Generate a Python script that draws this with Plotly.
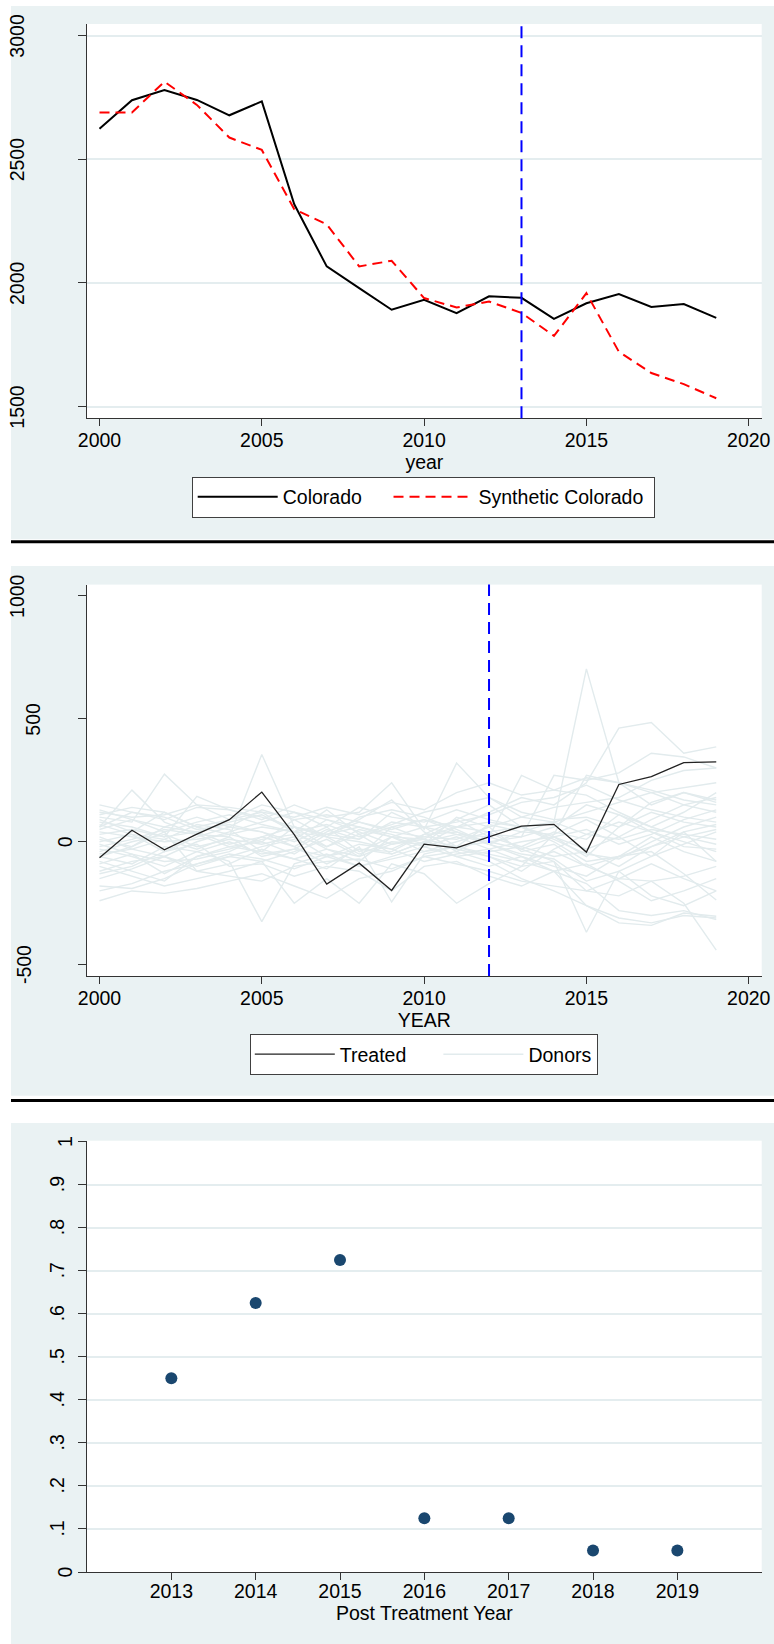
import plotly.graph_objects as go

W, H = 774, 1644
FONT = "Liberation Sans, Arial, sans-serif"
FONT_SIZE = 19.5
PANEL_BG = "#EAF2F3"
GRID = "#E4EDEF"
AXIS = "#333333"
NBSP = "\u00a0"

# ---- data -------------------------------------------------------------
years = list(range(2000, 2020))
colorado = [2624, 2739, 2780, 2740, 2678, 2734, 2318, 2067, 1979, 1892,
            1932, 1878, 1946, 1940, 1855, 1918, 1955, 1903, 1915, 1859]
synthetic_colorado = [2689, 2689, 2814, 2720, 2588, 2538, 2298, 2237, 2067, 2090,
                      1939, 1901, 1925, 1879, 1786, 1959, 1722, 1636, 1591, 1534]
treatment_year_top = 2013

gap_treated = [-65, 47, -33, 31, 90, 202, 29, -172, -87, -198,
               -10, -25, 20, 64, 71, -42, 233, 265, 322, 325]
treatment_year_mid = 2012

donor_gaps = [
    [150, 120, 90, 140, 130, 100, 60, 30, 80, 40, 20, 10, 60, 100, 140, 160, 180, 250, 290, 300],
    [-240, -200, -210, -190, -160, -130, -180, -230, -150, -120, -60, -40, -80, -150, -200, -260, -310, -330, -300, -310],
    [100, 80, 275, 150, 90, 120, 40, 70, 20, 60, 10, 90, 150, 60, 80, 703, 240, 150, 200, 160],
    [-180, -190, -150, -90, -60, -20, 10, 90, 60, 30, -10, 60, 120, 180, 150, 240, 462, 485, 360, 386],
    [60, 210, 80, 30, 20, 355, 60, -20, 30, -50, 0, 30, -10, -60, -100, -140, -60, -20, 40, 70],
    [-30, -60, -100, -40, -80, -325, -90, -50, -100, -70, -40, -20, -60, -100, -80, -200, -150, -160, -250, -441],
    [30, 50, 20, 185, 130, 90, 150, 100, 120, 240, 50, 320, 180, 100, 80, 30, 10, 50, 30, 10],
    [-100, -140, -180, -150, -120, -80, -250, -150, -250, -90, -130, -250, -170, -100, 30, 270, 240, 210, 170, 150],
    [120, 100, 110, 150, 140, 120, 100, 140, 110, 160, 130, 200, 240, 190, 210, 260, 240, 200, 220, 240],
    [-60, -20, 40, -120, -90, -30, -70, -110, -20, -245, -50, -20, -50, -80, -120, -170, -280, -300, -280, -317],
    [40, 20, 0, 10, 30, 60, 40, -30, -60, -10, 10, -20, 0, 20, 270, 250, 280, 360, 345, 300],
    [0, 30, -40, 20, 60, 40, 0, 60, -40, 20, 60, 30, 20, 270, 210, 190, 120, 60, 120, 200],
    [-120, -80, -60, -100, -60, -80, -40, 10, -60, 60, 90, 60, 40, -30, -80, -368, -120, -60, 40, -80],
    [80, 60, 20, 40, -10, 20, 60, 30, 10, 120, 60, -20, 70, 40, 30, 90, 20, -60, -10, 40],
    [-60, -90, -20, -40, 0, -50, -30, -60, -10, -30, -80, -50, -30, -80, -40, -100, -150, -90, -150, -200],
    [110, 140, 120, 60, 90, 150, 120, 60, 140, 100, 80, 130, 90, 60, 10, -50, -70, 0, 60, 100],
    [-80, -120, -160, -60, -30, 10, 30, -20, 50, 20, -40, 0, 40, 60, 20, -30, 20, 90, 150, 180],
    [20, -30, -60, 0, 40, 80, 120, 90, 40, -10, 20, 60, 80, 60, 0, -80, -60, -40, -130, -237],
    [-150, -110, -60, -120, -140, -160, -100, -80, -70, -110, -60, -90, -120, -160, -180, -200, -220, -160, -140, -100],
    [50, 90, 60, 100, 60, 130, 90, 20, 0, -30, 30, 90, 20, -20, 40, 10, 110, 60, 20, 50],
    [-20, 10, 50, 30, -20, 0, -50, 30, 60, 20, 10, -60, -100, -60, -120, -260, -330, -340, -290, -303],
    [130, 90, 40, 80, 110, 70, 40, 130, 30, 70, 120, 150, 180, 120, 90, 100, 60, 160, 200, 170],
    [-90, -50, -130, -60, -20, -40, -70, -30, -80, 20, -20, 20, -30, 0, 20, -60, 60, 120, 80, 60],
    [70, 30, 10, -30, 20, -60, -30, 40, 90, 170, 40, -40, 30, 20, 60, 150, 110, 40, -20, -30],
    [-10, -50, -80, -70, -40, 20, -20, -90, -30, -40, 30, 40, -10, -50, -70, -160, -120, -220, -260, -200],
    [-200, -170, -120, -90, -50, -70, -110, -60, -30, -50, 0, -30, -60, -120, -30, 30, 80, 40, 0, -40],
    [90, 40, 120, 60, 30, 0, 90, 110, 80, 50, 90, 40, 0, -30, 20, 50, -10, 30, 90, 130],
    [-40, 0, 30, -20, 10, -10, 20, -60, -100, -60, -20, -60, -40, -20, -60, -40, -100, -20, 20, -10],
    [10, -20, 60, 40, 80, 110, 40, 20, 100, 130, 100, 50, -10, 40, 80, 120, 160, 200, 150, 120],
    [-130, -100, -40, -10, -100, -90, -140, -100, -120, -200, -100, -80, -140, -180, -120, -90, -160, -240, -200, -150],
    [60, 120, 100, 50, 70, 40, -20, 50, 10, 80, 60, 80, 110, 160, 180, 230, 170, 130, 100, 80],
    [-50, -30, 10, 70, 50, -40, 60, 20, -50, 0, -10, 100, 60, -40, -10, -100, -60, 20, -40, -80],
]

post_years = [2013, 2014, 2015, 2016, 2017, 2018, 2019]
p_values = [0.45, 0.625, 0.725, 0.125, 0.125, 0.05, 0.05]

# ---- ticks --------------------------------------------------------------
year_ticks = [2000, 2005, 2010, 2015, 2020]
top_y_ticks = [1500, 2000, 2500, 3000]
mid_y_ticks = [-500, 0, 500, 1000]
bot_y_ticks = [0, 0.1, 0.2, 0.3, 0.4, 0.5, 0.6, 0.7, 0.8, 0.9, 1]
bot_y_labels = ["0", ".1", ".2", ".3", ".4", ".5", ".6", ".7", ".8", ".9", "1"]


def fx(x):
    return x / W


def fy(y):
    return 1 - y / H


# panel boxes in pixels: (left, top, right, bottom)
plot_box = [(87, 24, 761.7, 418.3), (87, 584.6, 761.7, 976), (87, 1140.7, 761.7, 1572)]

fig = go.Figure()

# top panel: actual vs synthetic
fig.add_trace(go.Scatter(x=years, y=colorado, mode="lines", name="Colorado" + NBSP * 4,
                         line=dict(color="black", width=2),
                         xaxis="x", yaxis="y", legend="legend"))
fig.add_trace(go.Scatter(x=years, y=synthetic_colorado, mode="lines",
                         name="Synthetic Colorado" + NBSP,
                         line=dict(color="#FF0000", width=2, dash="10px,6px"),
                         xaxis="x", yaxis="y", legend="legend"))

# middle panel: placebo gaps
for i, d in enumerate(donor_gaps):
    fig.add_trace(go.Scatter(x=years, y=d, mode="lines", name="Donors",
                             line=dict(color="#E2EBED", width=1.4),
                             legendgroup="donors", showlegend=(i == 0), legendrank=2,
                             xaxis="x2", yaxis="y2", legend="legend2"))
fig.add_trace(go.Scatter(x=years, y=gap_treated, mode="lines", name="Treated" + NBSP * 5,
                         line=dict(color="#222222", width=1.3), legendrank=1,
                         xaxis="x2", yaxis="y2", legend="legend2"))

# bottom panel: p-values
fig.add_trace(go.Scatter(x=post_years, y=p_values, mode="markers", showlegend=False,
                         marker=dict(color="#1A476F", size=12),
                         xaxis="x3", yaxis="y3"))

tickfont = dict(family=FONT, size=FONT_SIZE, color="black")


def xaxis_cfg(box, anchor, rng, tickvals, title, lift, standoff):
    return dict(domain=[fx(box[0]), fx(box[2])], anchor=anchor, range=rng,
                tickmode="array", tickvals=tickvals,
                showline=True, linecolor=AXIS, linewidth=1.3,
                ticks="outside", ticklen=7, tickwidth=1.3, tickcolor=AXIS,
                ticklabelstandoff=-lift,
                showgrid=False, zeroline=False, tickfont=tickfont,
                title=dict(text=title, font=tickfont, standoff=standoff), automargin=False)


def yaxis_cfg(box, anchor, rng, tickvals, grid):
    return dict(domain=[fy(box[3]), fy(box[1])], anchor=anchor, range=rng,
                tickmode="array", tickvals=tickvals, showticklabels=False,
                showline=True, linecolor=AXIS, linewidth=1.3,
                ticks="outside", ticklen=8, tickwidth=1.3, tickcolor=AXIS,
                showgrid=grid, gridcolor=GRID, gridwidth=1.6, zeroline=False,
                automargin=False)


legend_common = dict(orientation="h", xanchor="left", yanchor="top", bgcolor="white",
                     bordercolor="#404040", borderwidth=1,
                     font=dict(family=FONT, size=FONT_SIZE, color="black"), itemwidth=80)

fig.update_layout(
    width=W, height=H, autosize=False,
    margin=dict(l=0, r=0, t=0, b=0),
    paper_bgcolor=PANEL_BG, plot_bgcolor="white",
    font=dict(family=FONT, size=FONT_SIZE, color="black"),
    xaxis=xaxis_cfg(plot_box[0], "y", [1999.615, 2020.40], year_ticks, "year", 3, 1),
    yaxis=yaxis_cfg(plot_box[0], "x", [1453, 3047], top_y_ticks, True),
    xaxis2=xaxis_cfg(plot_box[1], "y2", [1999.615, 2020.40], year_ticks, "YEAR", 3, 1),
    yaxis2=yaxis_cfg(plot_box[1], "x2", [-546, 1046], mid_y_ticks, False),
    xaxis3=xaxis_cfg(plot_box[2], "y3", [2012, 2020], post_years, "Post Treatment Year", 6, 0),
    yaxis3=yaxis_cfg(plot_box[2], "x3", [0, 1.002], bot_y_ticks, True),
    legend=dict(legend_common, x=fx(191.7), y=fy(476.5)),
    legend2=dict(legend_common, x=fx(249.8), y=fy(1034)),
)

# white strips around the three grey panels and the black separators
shapes = [
    dict(type="rect", xref="paper", yref="paper", x0=0, x1=fx(11), y0=0, y1=1,
         fillcolor="white", line_width=0, layer="below"),
    dict(type="rect", xref="paper", yref="paper", x0=0, x1=1, y0=fy(6), y1=1,
         fillcolor="white", line_width=0, layer="below"),
    dict(type="rect", xref="paper", yref="paper", x0=0, x1=1, y0=fy(566), y1=fy(539.3),
         fillcolor="white", line_width=0, layer="below"),
    dict(type="rect", xref="paper", yref="paper", x0=0, x1=1, y0=fy(1123), y1=fy(1095.7),
         fillcolor="white", line_width=0, layer="below"),
]
for ysep in (541.7, 1100.5):
    shapes.append(dict(type="line", xref="paper", yref="paper", x0=fx(11), x1=1,
                       y0=fy(ysep), y1=fy(ysep), line=dict(color="black", width=3)))
for xa, ya, t in (("x", "y domain", treatment_year_top), ("x2", "y2 domain", treatment_year_mid)):
    shapes.append(dict(type="line", xref=xa, yref=ya, x0=t, x1=t, y0=0, y1=1,
                       line=dict(color="#0000FF", width=2, dash="12px,7px")))
fig.update_layout(shapes=shapes)


# vertical y tick labels, offset by their width as in the original graph style
def text_width(s, size=19):
    widths = {".": 0.278, "-": 0.333}
    return sum(widths.get(c, 0.556) for c in s) * size


annotations = []
for yref, vals, labels in (("y", top_y_ticks, [str(v) for v in top_y_ticks]),
                           ("y2", mid_y_ticks, [str(v) for v in mid_y_ticks]),
                           ("y3", bot_y_ticks, bot_y_labels)):
    for v, lab in zip(vals, labels):
        xc = 80.4 - 1.5 * text_width(lab)
        annotations.append(dict(text=lab, x=fx(xc), xref="paper", y=v, yref=yref,
                                textangle=-90, showarrow=False, xanchor="center",
                                yanchor="middle", font=tickfont))
fig.update_layout(annotations=annotations)

fig.write_html("out.html")
